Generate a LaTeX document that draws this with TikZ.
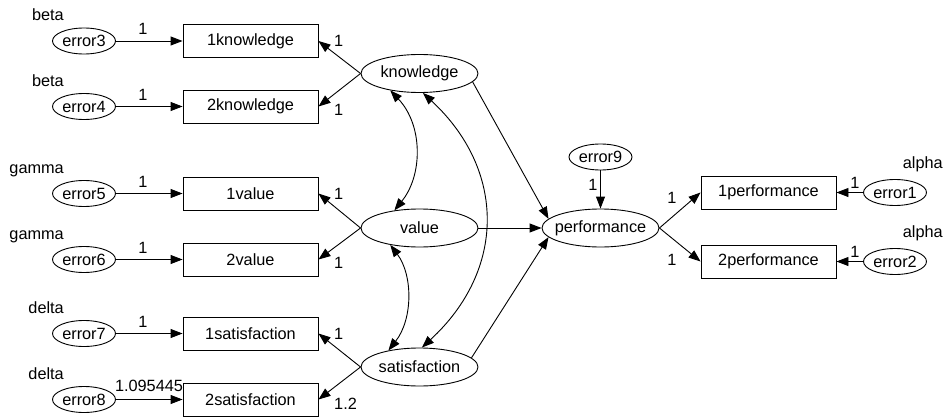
\documentclass[tikz,border=0pt]{standalone}
\usepackage{fontspec}
\setmainfont{Liberation Sans}
\usetikzlibrary{arrows.meta,shapes.geometric}
\begin{document}
\begin{tikzpicture}[x=1pt,y=-1pt,
  font=\fontsize{16.3}{19}\selectfont,
  obs/.style={draw,line width=0.9pt,rectangle,minimum width=135pt,minimum height=33pt,inner sep=0pt},
  err/.style={draw,line width=0.9pt,ellipse,minimum width=63pt,minimum height=26pt,inner sep=0pt},
  lat/.style={draw,line width=0.9pt,ellipse,minimum width=117pt,minimum height=38pt,inner sep=0pt,inner xsep=-8pt},
  pth/.style={line width=0.9pt,-{Triangle[length=12pt,width=9pt]}},
  cov/.style={line width=0.9pt,{Triangle[length=12pt,width=9pt]}-{Triangle[length=12pt,width=9pt]}},
  lbl/.style={inner sep=0pt},
]
\useasboundingbox[fill=white] (0,0) rectangle (947,417);

% error terms (left)
\node[err] (e3) at (84,41) {error3};
\node[err] (e4) at (84,106.5) {error4};
\node[err] (e5) at (84,193.5) {error5};
\node[err] (e6) at (84,259.5) {error6};
\node[err] (e7) at (84,333.5) {error7};
\node[err] (e8) at (84,399.5) {error8};

% observed
\node[obs] (k1) at (250.5,41) {1knowledge};
\node[obs] (k2) at (250.5,106.5) {2knowledge};
\node[obs] (v1) at (250.5,193.5) {1value};
\node[obs] (v2) at (250.5,259.5) {2value};
\node[obs] (s1) at (250.5,333.5) {1satisfaction};
\node[obs] (s2) at (250.5,399.5) {2satisfaction};

% latent
\node[lat] (K) at (419.5,73.5) {knowledge};
\node[lat] (V) at (419.5,228) {value};
\node[lat] (S) at (419.5,367) {satisfaction};
\node[lat] (P) at (600.5,228) {performance};
\node[err] (e9) at (600.5,157) {error9};

% right side
\node[obs] (p1) at (768.5,192.5) {1performance};
\node[obs] (p2) at (768.5,261.5) {2performance};
\node[err] (e1) at (895,192.5) {error1};
\node[err] (e2) at (895,261.5) {error2};

% variance labels
\node[lbl,anchor=base east] (l3) at (64,21) {beta};
\node[lbl,anchor=base east] (l4) at (64,86.5) {beta};
\node[lbl,anchor=base east] (l5) at (64,173.5) {gamma};
\node[lbl,anchor=base east] (l6) at (64,239.5) {gamma};
\node[lbl,anchor=base east] (l7) at (64,313.5) {delta};
\node[lbl,anchor=base east] (l8) at (64,379.5) {delta};
\node[lbl,anchor=base east] (l1) at (943,168.5) {alpha};
\node[lbl,anchor=base east] (l2) at (943,237.5) {alpha};

% error -> observed
\draw[pth] (e3) -- (k1);
\draw[pth] (e4) -- (k2);
\draw[pth] (e5) -- (v1);
\draw[pth] (e6) -- (v2);
\draw[pth] (e7) -- (s1);
\draw[pth] (e8) -- (s2);
\node[lbl,anchor=base] (w3) at (143,35) {1};
\node[lbl,anchor=base] (w4) at (143,100.5) {1};
\node[lbl,anchor=base] (w5) at (143,187.5) {1};
\node[lbl,anchor=base] (w6) at (143,253.5) {1};
\node[lbl,anchor=base] (w7) at (143,327.5) {1};
\node[lbl,anchor=base] (w8) at (149,391.5) {1.095445};

% latent -> observed
\draw[pth] (K.west) -- (k1.east);
\draw[pth] (K.west) -- (k2.east);
\draw[pth] (V.west) -- (v1.east);
\draw[pth] (V.west) -- (v2.east);
\draw[pth] (S.west) -- (s1.east);
\draw[pth] (S.west) -- (s2.east);
\node[lbl,anchor=base west] (a1) at (334,46.5) {1};
\node[lbl,anchor=base west] (a2) at (334,115.5) {1};
\node[lbl,anchor=base west] (a3) at (334,199) {1};
\node[lbl,anchor=base west] (a4) at (334,268.5) {1};
\node[lbl,anchor=base west] (a5) at (334,339) {1};
\node[lbl,anchor=base west] (a6) at (334,409) {1.2};

% structural paths
\draw[pth] (K.-9) -- (P.170);
\draw[pth] (V.east) -- (P.west);
\draw[pth] (S.10) -- (P.-170);
\draw[pth] (e9.south) -- (P.north);
\node[lbl,anchor=base] (w9) at (593,190) {1};

% performance -> indicators
\draw[pth] (P.east) -- (p1.west);
\draw[pth] (P.east) -- (p2.west);
\node[lbl,anchor=base] (b1) at (672,203) {1};
\node[lbl,anchor=base] (b2) at (672,265) {1};
\draw[pth] (e1) -- (p1);
\draw[pth] (e2) -- (p2);
\node[lbl,anchor=base] (c1) at (855,188) {1};
\node[lbl,anchor=base] (c2) at (855,257) {1};

% covariances
\draw[cov] (K.-150) .. controls (423,125) and (423,175) .. (V.145);
\draw[cov] (V.-150) .. controls (413,275) and (413,319) .. (S.152);
\draw[cov] (K.-80) .. controls (506,170) and (506,270) .. (S.83);
\end{tikzpicture}
\end{document}
